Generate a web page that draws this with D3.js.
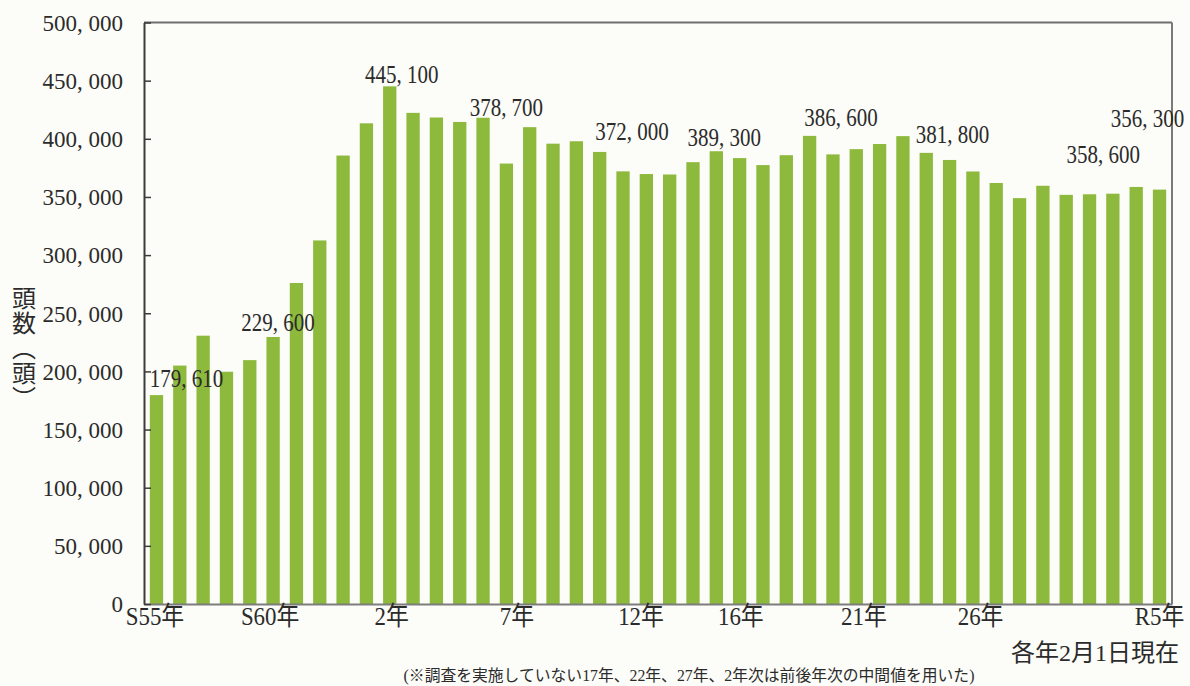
<!DOCTYPE html>
<html>
<head>
<meta charset="utf-8">
<script src="https://cdn.jsdelivr.net/npm/d3@7"></script>
<style>
  html, body { margin: 0; padding: 0; background: #fcfcf8; }
  svg { display: block; }
  .serif { font-family: "Liberation Serif", "Noto Sans CJK JP", serif; fill: #2b2b2b; }
  .cjk { font-family: "Noto Sans CJK JP", sans-serif; fill: #2b2b2b; }
</style>
</head>
<body>
<svg id="chart" width="1190" height="686"></svg>
<script>
// ---- data ----
const categories = [
  "S55","S56","S57","S58","S59","S60","S61","S62","S63",
  "H1","H2","H3","H4","H5","H6","H7","H8","H9","H10",
  "H11","H12","H13","H14","H15","H16","H17","H18","H19","H20",
  "H21","H22","H23","H24","H25","H26","H27","H28","H29","H30",
  "R1","R2","R3","R4","R5"
];
const headCounts = [
  179610, 205000, 230700, 199700, 209700, 229600, 276000, 312600, 385600,
  413300, 445100, 422300, 418300, 414500, 418100, 378700, 410000, 395800, 397900,
  388700, 372000, 369700, 369300, 379900, 389300, 383400, 377400, 385900, 402500,
  386600, 391100, 395500, 402300, 387900, 381800, 371900, 362000, 349000, 359600,
  351800, 352300, 352800, 358600, 356300
];
const labeledCategories = ["S55","S60","H2","H7","H12","H16","H21","H26","R4","R5"];
const xTickCategories = ["S55","S60","H2","H7","H12","H16","H21","H26","R5"];
const xTickLabels = ["S55年","S60年","2年","7年","12年","16年","21年","26年","R5年"];
const yTickValues = [0, 50000, 100000, 150000, 200000, 250000, 300000, 350000, 400000, 450000, 500000];
const yAxisTitle = "頭数（頭）";
const dateNote = "各年2月1日現在";
const footNote = "(※調査を実施していない17年、22年、27年、2年次は前後年次の中間値を用いた)";

// ---- layout (hand placement as in the printed chart) ----
const valueLabelShift = [[30, -8], [5, -6], [12, -3], [0, -48], [9, -31], [8, -5], [8, -28], [3, -17], [-33, -24], [-12, -63]];
const xTickShift = [-1.5, -3, 2, 10.5, 18, 24.5, 31, 31, 0];

const svg = d3.select("#chart");
const M = { left: 144, right: 1172, top: 22.5, bottom: 604 };

const x = d3.scaleBand().domain(categories).range([M.left, M.right])
  .paddingInner(0.43).paddingOuter(0.25);
const y = d3.scaleLinear().domain([0, 500000]).range([M.bottom, M.top]);

const fmt = v => d3.format(",")(v).replace(/,/g, ", ");

// frame: top and right border
svg.append("line").attr("x1", M.left).attr("x2", M.right).attr("y1", M.top).attr("y2", M.top)
  .attr("stroke", "#6e6e6e").attr("stroke-width", 2);
svg.append("line").attr("x1", M.right).attr("x2", M.right).attr("y1", M.top).attr("y2", M.bottom)
  .attr("stroke", "#7a7a7a").attr("stroke-width", 2);

// bars
const data = categories.map((c, i) => ({ c, v: headCounts[i] }));
svg.append("g").selectAll("rect").data(data).join("rect")
  .attr("x", d => x(d.c))
  .attr("y", d => y(d.v))
  .attr("width", x.bandwidth())
  .attr("height", d => y(0) - y(d.v))
  .attr("fill", "#8db93c");

// bottom axis line
const xAxis = d3.axisBottom(x).tickValues([]).tickSizeOuter(0);
const gx = svg.append("g").attr("transform", `translate(0,${M.bottom})`).call(xAxis);
gx.select(".domain").attr("stroke", "#7d7d7d").attr("stroke-width", 2);

// left axis
const yAxis = d3.axisLeft(y).tickValues(yTickValues).tickSizeInner(-7).tickSizeOuter(0)
  .tickPadding(21).tickFormat(fmt);
const gy = svg.append("g").attr("transform", `translate(${M.left},0)`).call(yAxis);
gy.select(".domain").attr("stroke", "#3c3c3c").attr("stroke-width", 2);
gy.selectAll(".tick line").attr("stroke", "#3c3c3c").attr("stroke-width", 1.5);
gy.selectAll(".tick text").attr("class", "serif").style("font-size", "23px")
  .attr("fill", "#2b2b2b").attr("dy", "0.34em");

// x tick labels
svg.append("g").selectAll("text").data(xTickCategories).join("text")
  .attr("class", "serif")
  .attr("text-anchor", "middle")
  .attr("transform", (c, i) => `translate(${x(c) + x.bandwidth() / 2 + xTickShift[i]},625) scale(0.88,1)`)
  .style("font-size", "26px")
  .text((c, i) => xTickLabels[i]);

// value labels
svg.append("g").selectAll("text").data(labeledCategories).join("text")
  .attr("class", "serif")
  .attr("text-anchor", "middle")
  .attr("transform", (c, i) => {
    const v = headCounts[categories.indexOf(c)];
    const cx = x(c) + x.bandwidth() / 2 + valueLabelShift[i][0];
    const cy = y(v) + valueLabelShift[i][1];
    return `translate(${cx},${cy}) scale(0.84,1)`;
  })
  .style("font-size", "25px")
  .text(c => fmt(headCounts[categories.indexOf(c)]));

// y axis title (vertical)
svg.append("text")
  .attr("class", "cjk")
  .attr("x", 24).attr("y", 286)
  .style("writing-mode", "vertical-rl")
  .style("font-size", "24px")
  .style("letter-spacing", "1px")
  .text(yAxisTitle);

// date note
svg.append("text").attr("class", "serif")
  .attr("x", 1179).attr("y", 661).attr("text-anchor", "end")
  .style("font-size", "24px")
  .text(dateNote);

// footnote
svg.append("text").attr("class", "serif")
  .attr("x", 689).attr("y", 681).attr("text-anchor", "middle")
  .style("font-size", "15.8px")
  .text(footNote);
</script>
</body>
</html>
